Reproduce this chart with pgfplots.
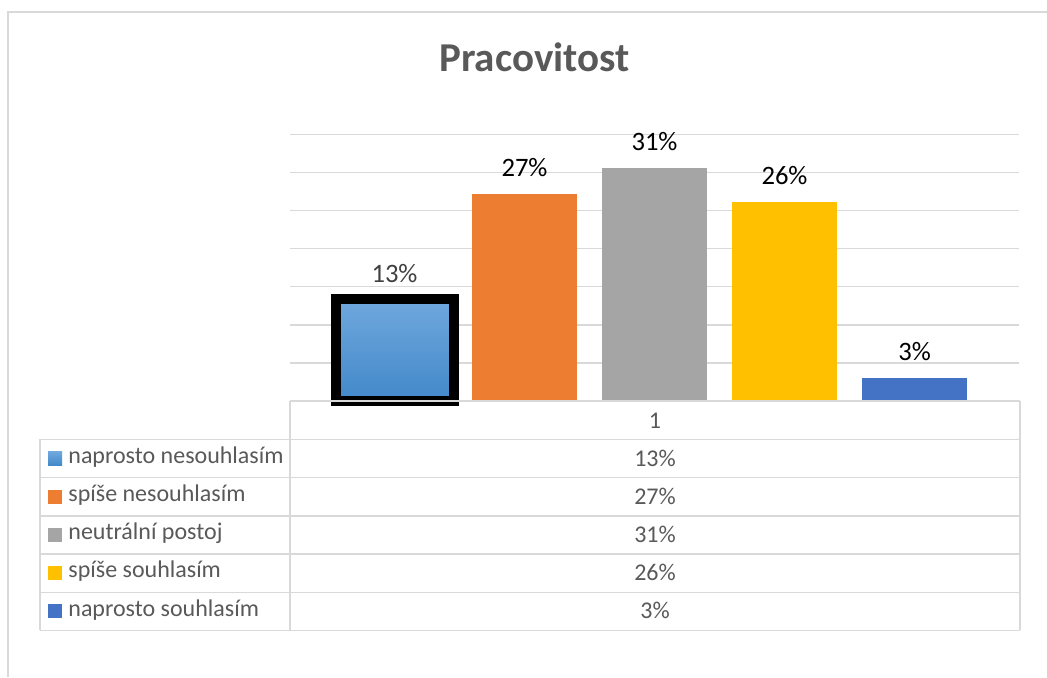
\documentclass[border=0pt]{standalone}
\usepackage{pgfplots}
\pgfplotsset{compat=1.18}
\usepackage{fontspec}
\setmainfont{Carlito}
\definecolor{gridgray}{HTML}{D9D9D9}
\definecolor{textgray}{HTML}{595959}
\definecolor{labgray}{HTML}{404040}
\definecolor{cblueT}{HTML}{70A8DE}
\definecolor{cblueB}{HTML}{4288C9}
\definecolor{corange}{HTML}{ED7D31}
\definecolor{cgray}{HTML}{A5A5A5}
\definecolor{cyellow}{HTML}{FFC000}
\definecolor{cblue}{HTML}{4472C4}
\begin{document}
\begin{tikzpicture}
\useasboundingbox (0,0) rectangle (523.5pt,-338.5pt);
\begin{axis}[
  at={(145pt,-200.5pt)}, anchor=south west,
  scale only axis, width=364.5pt, height=133.35pt,
  xmin=0, xmax=729, ymin=0, ymax=35,
  ybar, bar shift=0pt,
  axis line style={draw=none}, tick style={draw=none},
  xtick=\empty, ytick={5,10,...,35}, yticklabels={},
  ymajorgrids, grid style={draw=gridgray, line width=0.75pt},
  clip=false,
  /pgf/number format/assume math mode=true,
  nodes near coords={\pgfmathprintnumber[fixed,precision=0,assume math mode=true]{\pgfplotspointmeta}\%},
  nodes near coords style={font=\fontsize{13.3}{16}\selectfont, text=black, anchor=south, inner sep=0pt},
]
\addplot[draw=black, line width=5pt, bar width=59pt, top color=cblueT, bottom color=cblueB,
  nodes near coords style={yshift=5.6pt, text=labgray}] coordinates {(104.5,13.4)};
\addplot[fill=corange, draw=none, bar width=52.5pt, nodes near coords style={yshift=8.5pt}] coordinates {(234.5,27.2)};
\addplot[fill=cgray, draw=none, bar width=52.5pt, nodes near coords style={yshift=8.5pt}] coordinates {(364.5,30.6)};
\addplot[fill=cyellow, draw=none, bar width=52.5pt, nodes near coords style={yshift=8.5pt}] coordinates {(494.5,26.1)};
\addplot[fill=cblue, draw=none, bar width=52.5pt, nodes near coords style={yshift=8.5pt}] coordinates {(624.5,3.0)};
\end{axis}
\begin{scope}[x=0.5pt,y=-0.5pt]
  % chart area border
  \draw[gridgray, line width=0.7pt] (8,677) -- (8,12) -- (1047,12);
  % title
  \node[anchor=base, font=\fontsize{20.5}{24}\selectfont\bfseries, text=textgray, inner sep=0pt] at (534.5,71) {Pracovitost};
  % data table
  \draw[gridgray, line width=0.7pt] (290,401) -- (1020,401);
  \draw[gridgray, line width=0.7pt] (290,401) -- (290,630.3);
  \draw[gridgray, line width=0.7pt] (1020,401) -- (1020,630.3);
  \draw[gridgray, line width=0.7pt] (40,439.3) -- (40,630.3);
  \foreach \yy in {439.3,477.7,516,554,592.3,630.3}
    \draw[gridgray, line width=0.7pt] (40,\yy) -- (1020,\yy);
  \node[anchor=base, font=\fontsize{12}{14}\selectfont, text=textgray, inner sep=0pt] at (655,428) {1};
  % rows
  \foreach \yc/\name/\val in {458.5/naprosto nesouhlasím/13\%, 496.85/spíše nesouhlasím/27\%, 535/neutrální postoj/31\%, 573.15/spíše souhlasím/26\%, 611.3/naprosto souhlasím/3\%}{
    \node[anchor=mid west, font=\fontsize{12}{14}\selectfont, text=textgray, inner sep=0pt] at (68,\yc) {\name};
    \node[anchor=base, font=\fontsize{12}{14}\selectfont, text=textgray, inner sep=0pt] at (655,\yc+7.5) {\val};
  }
  \shade[top color=cblueT, bottom color=cblueB] (48,451.5) rectangle (62,465.5);
  \fill[corange] (48,489.85) rectangle (62,503.85);
  \fill[cgray] (48,528) rectangle (62,542);
  \fill[cyellow] (48,566.15) rectangle (62,580.15);
  \fill[cblue] (48,604.3) rectangle (62,618.3);
\end{scope}
\end{tikzpicture}
\end{document}
